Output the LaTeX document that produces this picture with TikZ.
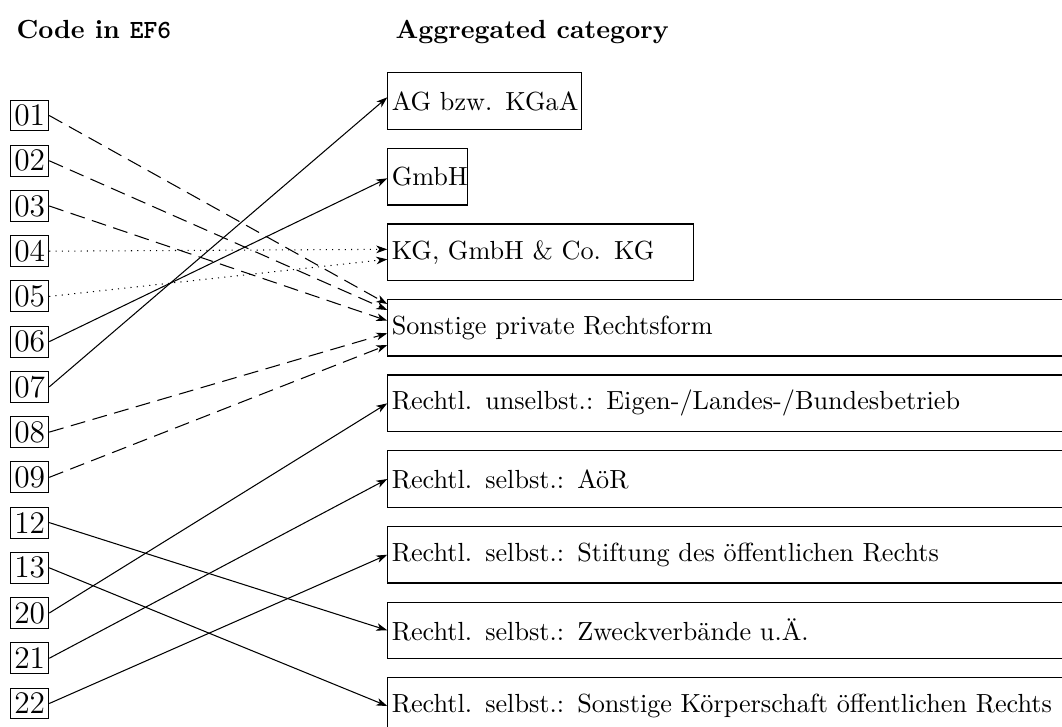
\documentclass[tikz,border=0pt]{standalone}
\usepackage{fontspec}
\usetikzlibrary{calc,arrows.meta}
\begin{document}
\begin{tikzpicture}[x=0.38168pt, y=-0.38168pt,
  code/.style={draw, inner sep=0pt, minimum width=14.5pt, minimum height=11.8pt, font=\large},
  cat/.style={draw, anchor=west, minimum height=21.6pt, inner xsep=1.5pt, inner ysep=0pt, align=left},
  hdr/.style={anchor=base west, inner sep=0pt, font=\bfseries},
  tip/.style={-{Stealth[length=4.2pt, width=2.9pt, inset=1.2pt]}},
  conn/.style={tip},
  dsh/.style={tip, dash pattern=on 5.7pt off 2.9pt},
  dot/.style={tip, dotted}]
\useasboundingbox (0,0) rectangle (1062,726);
\node[hdr] (h1) at (16,38) {Code in \texttt{EF6}};
\node[hdr] (h2) at (395,38) {Aggregated category};
% codes
\foreach \n [count=\i from 0] in {01,02,03,04,05,06,07,08,09,12,13,20,21,22}
  \node[code] (c\n) at (29.7,{115.5+45.23*\i}) {\n};
% categories
\node[cat, text width=71pt] (ag) at (387.3,101) {\mbox{AG bzw. KGaA}};
\node[cat, text width=27.5pt] (gmbh) at (387.3,176.7) {\mbox{GmbH}};
\node[cat, text width=113.8pt] (kg) at (387.3,252.3) {KG, GmbH \& Co. KG};
\node[cat, text width=264pt] (son) at (387.3,327.7) {Sonstige private Rechtsform};
\node[cat, text width=264pt] (unselb) at (387.3,403.3) {Rechtl. unselbst.: Eigen-/Landes-/Bundesbetrieb};
\node[cat, text width=264pt] (aoer) at (387.3,479) {Rechtl. selbst.: AöR};
\node[cat, text width=264pt] (stift) at (387.3,554.7) {Rechtl. selbst.: Stiftung des öffentlichen Rechts};
\node[cat, text width=264pt] (zweck) at (387.3,630.3) {Rechtl. selbst.: Zweckverbände u.Ä.};
\node[cat, text width=264pt] (koerp) at (387.3,706) {\mbox{Rechtl. selbst.: Sonstige Körperschaft öffentlichen Rechts}};
% connectors
\draw[dsh] (c01.east) -- ($(son.west)+(0,-23.7)$);
\draw[dsh] (c02.east) -- ($(son.west)+(0,-17.7)$);
\draw[dsh] (c03.east) -- ($(son.west)+(0,-7)$);
\draw[dot] (c04.east) -- ($(kg.west)+(0,-3)$);
\draw[dot] (c05.east) -- ($(kg.west)+(0,7)$);
\draw[conn] (c06.east) -- ($(gmbh.west)+(0,1.6)$);
\draw[conn] (c07.east) -- ($(ag.west)+(0,-3.7)$);
\draw[dsh] (c08.east) -- ($(son.west)+(0,5.6)$);
\draw[dsh] (c09.east) -- ($(son.west)+(0,17.3)$);
\draw[conn] (c12.east) -- (zweck.west);
\draw[conn] (c13.east) -- (koerp.west);
\draw[conn] (c20.east) -- (unselb.west);
\draw[conn] (c21.east) -- (aoer.west);
\draw[conn] (c22.east) -- (stift.west);
\end{tikzpicture}
\end{document}
